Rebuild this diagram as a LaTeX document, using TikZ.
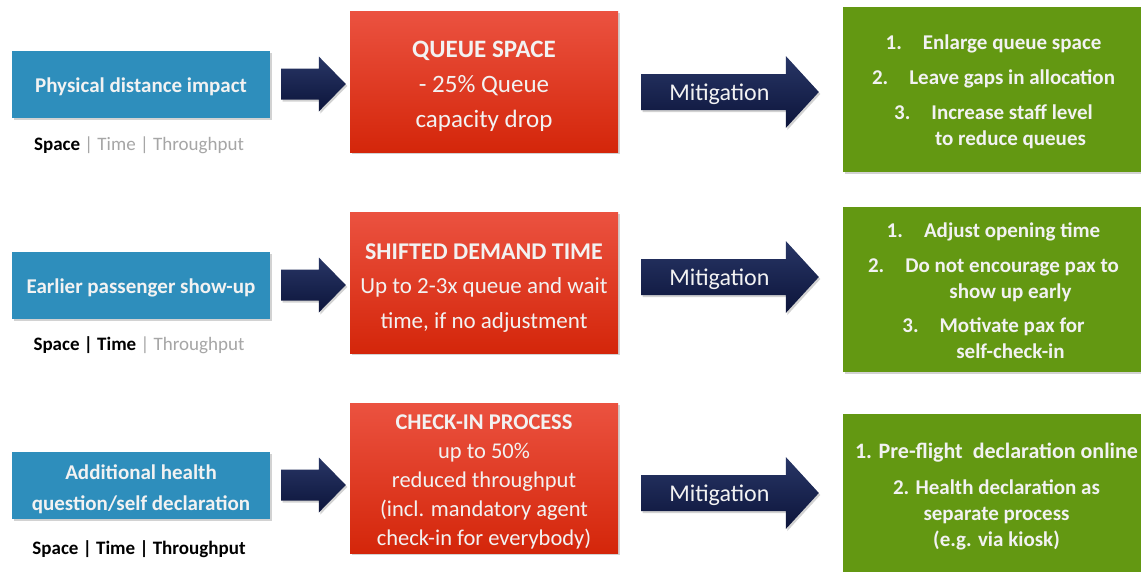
\documentclass[tikz,border=0pt]{standalone}
\usepackage{fontspec}
\setmainfont{Carlito}
\usetikzlibrary{calc,shadows}

\definecolor{boxblue}{RGB}{46,142,188}
\definecolor{redtop}{RGB}{235,82,64}
\definecolor{redbot}{RGB}{212,38,10}
\definecolor{boxgreen}{RGB}{99,152,18}
\definecolor{navytop}{RGB}{40,54,102}
\definecolor{navybot}{RGB}{12,20,58}
\definecolor{paletext}{RGB}{242,242,242}
\definecolor{dimtext}{RGB}{166,166,166}

% block arrow: style, start, end, shaft half width, head half width, head length
\newcommand\blockarrow[6]{%
  \path[#1] let \p1=(#2), \p2=(#3) in
    (\x1,{\y1+#4}) -- ({\x2-#6},{\y1+#4}) -- ({\x2-#6},{\y1+#5}) -- (\x2,\y1)
    -- ({\x2-#6},{\y1-#5}) -- ({\x2-#6},{\y1-#4}) -- (\x1,{\y1-#4}) -- cycle;}

\tikzset{
  boxshadow/.style={drop shadow={opacity=0.35, shadow xshift=1.5pt, shadow yshift=-2pt}},
  bluebox/.style={rectangle, fill=boxblue, boxshadow, minimum width=258pt,
    minimum height=67pt, inner sep=0pt},
  redbox/.style={rectangle, top color=redtop, bottom color=redbot, boxshadow,
    minimum width=268pt, inner sep=0pt},
  greenbox/.style={rectangle, fill=boxgreen, boxshadow, minimum width=307pt,
    inner sep=0pt},
  boxtext/.style={inner sep=0pt, text=paletext, align=center},
  bluetext/.style={boxtext, font=\fontsize{21}{31}\selectfont\bfseries},
  greentext/.style={boxtext, font=\fontsize{21}{26}\selectfont\bfseries},
  status/.style={inner sep=0pt, font=\fontsize{19}{22}\selectfont},
  navyarrow/.style={top color=navytop, bottom color=navybot, boxshadow},
  mitlabel/.style={inner sep=0pt, text=paletext, font=\fontsize{24}{28}\selectfont},
}

\begin{document}
\begin{tikzpicture}[x=1pt, y=-1pt]
\useasboundingbox (0,0) rectangle (1141,571);
\clip (0,0) rectangle (1141,571);
\fill[white] (0,0) rectangle (1141,571);

% ---------- boxes ----------
\node[bluebox] (b1) at (141,84) {};
\node[bluebox] (b2) at (141,285) {};
\node[bluebox] (b3) at (141,485) {};
\node[redbox, minimum height=141pt] (r1) at (484,81.5) {};
\node[redbox, minimum height=141pt] (r2) at (484,282.5) {};
\node[redbox, minimum height=150pt] (r3) at (484,478) {};
\node[greenbox, minimum height=165pt] (g1) at (996.5,89.5) {};
\node[greenbox, minimum height=165pt] (g2) at (996.5,289.5) {};
\node[greenbox, minimum height=166pt] (g3) at (996.5,497) {};

% ---------- row 1: space ----------
\node[bluetext] (b1t) at ($(b1)+(0,3)$) {Physical distance impact};
\node[status] (s1) at (139,145) {\textbf{Space} {\color{dimtext}| Time | Throughput}};
\node[boxtext, font=\fontsize{25}{35}\selectfont] (r1t) at ($(r1)+(0,5)$)
  {\textbf{QUEUE SPACE}\\- 25\% Queue\\capacity drop};
\node[greentext] (g1t) at ($(g1)+(-3,2)$)
  {1.\hspace{0.7em} Enlarge queue space\\[9pt]
   2.\hspace{0.7em} Leave gaps in allocation\\[9pt]
   3.\hspace{0.7em} Increase staff level\\
   \hspace*{34pt}to reduce queues};

% ---------- row 2: time ----------
\node[bluetext] (b2t) at ($(b2)+(0,3)$) {Earlier passenger show-up};
\node[status] (s2) at (139,345) {\textbf{Space | Time} {\color{dimtext}| Throughput}};
\node[boxtext, font=\fontsize{23}{34.5}\selectfont] (r2t) at ($(r2)+(0,5.5)$)
  {{\fontsize{24}{34.5}\selectfont\bfseries SHIFTED DEMAND TIME}\\Up to 2-3x queue and wait\\time, if no adjustment};
\node[greentext] (g2t) at ($(g2)+(-3,1.5)$)
  {1.\hspace{0.7em} Adjust opening time\\[9pt]
   2.\hspace{0.7em} Do not encourage pax to\\
   \hspace*{34pt}show up early\\[8pt]
   3.\hspace{0.7em} Motivate pax for\\
   \hspace*{34pt}self-check-in};

% ---------- row 3: throughput ----------
\node[bluetext] (b3t) at ($(b3)+(0,4.5)$) {Additional health\\question/self declaration};
\node[status] (s3) at (139,549) {\textbf{Space | Time | Throughput}};
\node[boxtext, font=\fontsize{22.5}{29}\selectfont] (r3t) at ($(r3)+(0,4)$)
  {\textbf{CHECK-IN PROCESS}\\up to 50\%\\reduced throughput\\(incl. mandatory agent\\check-in for everybody)};
\node[greentext] (g3t) at ($(g3)+(0,0)$)
  {{\fontsize{22}{26}\selectfont 1. Pre-flight\ \ declaration online}\\[10pt]
   2. Health declaration as\\
   separate process\\
   (e.g. via kiosk)};

% ---------- impact arrows (blue -> red) ----------
\foreach \i in {1,2,3} {
  \coordinate (p\i s) at ($(b\i.east)+(11,0)$);
  \coordinate (p\i e) at ($(r\i.west)+(-4,0)$);
  \blockarrow{navyarrow}{p\i s}{p\i e}{15.5pt}{27.5pt}{27pt}
}

% ---------- mitigation arrows (red -> green) ----------
\coordinate (m1s) at ($(r1.east |- g1.west)+(23,2.5)$);
\coordinate (m1e) at ($(g1.west)+(-24,2.5)$);
\coordinate (m2s) at ($(r2.east |- g2.west)+(23,-12.5)$);
\coordinate (m2e) at ($(g2.west)+(-24,-12.5)$);
\coordinate (m3s) at ($(r3.east |- g3.west)+(23,-4)$);
\coordinate (m3e) at ($(g3.west)+(-24,-4)$);
\foreach \i in {1,2,3} {
  \blockarrow{navyarrow}{m\i s}{m\i e}{18pt}{36pt}{33pt}
  \node[mitlabel] (ml\i) at ($(m\i s)!0.44!(m\i e)+(0,2)$) {Mitigation};
}
\end{tikzpicture}
\end{document}
